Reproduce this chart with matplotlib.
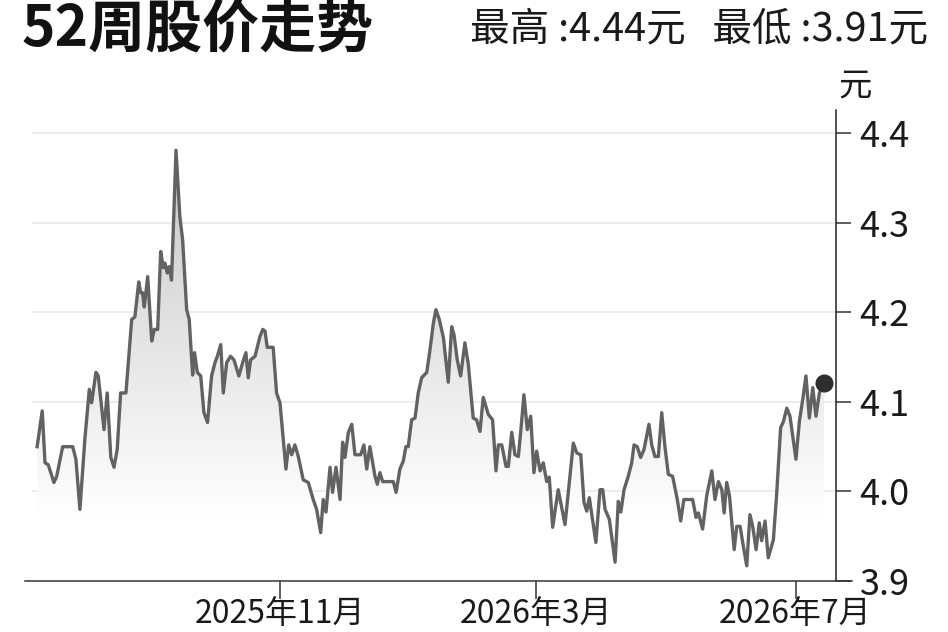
import numpy as np
import matplotlib
matplotlib.use("Agg")
import matplotlib.pyplot as plt

plt.rcParams['font.family'] = ['Noto Sans CJK SC', 'DejaVu Sans']

# 日期: 距 2025-07-10 的天数; 价格: 元
start = np.datetime64('2025-07-10')
day = [0.0, 2.4, 3.7, 5.2, 7.9, 9.2, 12.0, 16.7, 18.2, 20.1,
       22.4, 24.5, 25.6, 27.6, 28.7, 31.4, 32.9, 34.6, 36.1, 37.6,
       39.2, 41.7, 44.4, 45.9, 47.7, 48.6, 49.5, 50.3, 51.9, 53.8,
       55.0, 56.6, 58.0, 59.2, 60.0, 61.1, 62.0, 63.1, 65.2, 67.0,
       68.3, 70.2, 71.4, 73.0, 73.9, 75.2, 76.8, 78.3, 80.0, 81.9,
       83.5, 84.6, 86.2, 87.4, 89.0, 90.8, 92.4, 94.7, 96.5, 98.0,
       99.1, 100.2, 102.3, 104.6, 105.9, 107.0, 108.0, 110.8, 112.4, 114.0,
       116.8, 118.1, 119.5, 121.0, 122.6, 124.9, 127.3, 129.6, 131.2, 133.1,
       134.3, 135.6, 137.5, 138.7, 140.3, 142.2, 143.4, 144.5, 146.1, 147.7,
       149.2, 151.9, 153.4, 154.7, 156.2, 158.6, 159.7, 160.9, 162.2, 167.2,
       168.5, 170.3, 171.9, 173.1, 174.2, 175.8, 177.4, 178.9, 180.5, 182.9,
       184.4, 186.0, 187.2, 188.8, 190.7, 193.0, 194.6, 195.7, 197.2, 198.8,
       200.8, 202.4, 204.7, 206.3, 207.9, 209.4, 211.8, 213.8, 215.4, 216.5,
       218.1, 220.1, 221.2, 222.8, 224.3, 225.9, 227.4, 228.5, 230.1, 231.7,
       233.2, 234.5, 236.1, 237.6, 239.2, 240.4, 242.0, 244.6, 247.8, 251.7,
       253.3, 255.2, 256.7, 258.0, 259.2, 262.3, 264.2, 265.5, 266.6, 268.6,
       271.3, 272.8, 274.0, 275.5, 277.5, 279.1, 280.2, 281.7, 283.3, 284.9,
       287.2, 288.5, 290.0, 291.6, 293.2, 294.7, 296.3, 298.3, 300.5, 302.1,
       303.6, 307.7, 309.3, 310.4, 312.4, 314.3, 316.7, 318.2, 319.8, 321.4,
       322.5, 323.7, 325.0, 327.2, 328.4, 330.0, 331.2, 333.1, 334.6, 335.9,
       337.5, 339.0, 340.1, 341.7, 343.2, 345.6, 347.2, 349.0, 350.3, 351.9,
       353.4, 356.2, 357.8, 359.4, 360.9, 362.5, 364.1, 365.6, 367.2, 369.4]
price = [4.050, 4.090, 4.032, 4.030, 4.010, 4.017, 4.050, 4.050, 4.036, 3.980,
         4.058, 4.114, 4.099, 4.133, 4.129, 4.069, 4.110, 4.038, 4.027, 4.047,
         4.110, 4.110, 4.192, 4.195, 4.234, 4.222, 4.222, 4.206, 4.240, 4.168,
         4.181, 4.181, 4.268, 4.250, 4.255, 4.244, 4.251, 4.236, 4.381, 4.307,
         4.281, 4.203, 4.192, 4.130, 4.155, 4.133, 4.129, 4.088, 4.077, 4.129,
         4.144, 4.151, 4.164, 4.110, 4.144, 4.151, 4.147, 4.129, 4.144, 4.155,
         4.127, 4.147, 4.151, 4.173, 4.181, 4.179, 4.161, 4.161, 4.110, 4.099,
         4.025, 4.052, 4.041, 4.052, 4.039, 4.013, 4.010, 3.991, 3.980, 3.954,
         3.991, 3.977, 4.027, 3.999, 4.027, 3.991, 4.055, 4.038, 4.066, 4.075,
         4.041, 4.041, 4.052, 4.025, 4.050, 4.017, 4.008, 4.021, 4.011, 4.011,
         3.999, 4.025, 4.034, 4.050, 4.050, 4.080, 4.082, 4.110, 4.127, 4.133,
         4.158, 4.188, 4.203, 4.192, 4.172, 4.122, 4.184, 4.175, 4.147, 4.129,
         4.166, 4.142, 4.082, 4.080, 4.067, 4.105, 4.086, 4.080, 4.023, 4.052,
         4.052, 4.028, 4.028, 4.066, 4.041, 4.039, 4.077, 4.108, 4.069, 4.084,
         4.021, 4.045, 4.023, 4.032, 4.011, 4.016, 3.960, 4.002, 3.963, 4.054,
         4.043, 4.041, 3.988, 3.978, 3.993, 3.943, 4.002, 4.002, 3.980, 3.969,
         3.921, 3.989, 3.977, 4.002, 4.017, 4.032, 4.052, 4.050, 4.038, 4.047,
         4.075, 4.052, 4.039, 4.039, 4.088, 4.050, 4.019, 4.017, 3.991, 3.967,
         3.991, 3.991, 3.971, 3.976, 3.958, 3.995, 4.023, 3.991, 4.011, 4.002,
         3.976, 4.010, 3.995, 3.935, 3.961, 3.961, 3.943, 3.917, 3.974, 3.961,
         3.935, 3.965, 3.945, 3.967, 3.926, 3.946, 3.999, 4.071, 4.078, 4.093,
         4.084, 4.036, 4.078, 4.103, 4.129, 4.082, 4.116, 4.084, 4.110, 4.121]

tick_dates = ['2025-11-01', '2026-03-01', '2026-07-01']
tick_labels = ['2025年11月', '2026年3月', '2026年7月']
y_ticks = [3.9, 4.0, 4.1, 4.2, 4.3, 4.4]
title = '52周股价走势'
summary = '最高 :4.44元   最低 :3.91元'
unit = '元'

x = np.array(day)
y = np.array(price)
x_lo, x_hi = -2.4, 375.0
y_lo, y_hi = 3.9, 4.426

fig = plt.figure(figsize=(9.48, 6.32), dpi=100)
ax = fig.add_axes([32 / 948, 51 / 632, 804 / 948, 471 / 632])

# 网格
for v in y_ticks[1:]:
    ax.axhline(v, color='#ececec', lw=1.3, zorder=0)

# 渐变填充
poly = ax.fill_between(x, y, y_lo, color='none', lw=0)
grad_y = np.linspace(y_lo, y_hi, 200)
shade = 1 - 0.22 * np.clip((grad_y - 3.97) / 0.42, 0, 1)
img = np.dstack([shade, shade, shade]).reshape(-1, 1, 3)
im = ax.imshow(img, extent=[x_lo, x_hi, y_lo, y_hi], origin='lower',
               aspect='auto', zorder=1, interpolation='bilinear')
im.set_clip_path(poly.get_paths()[0], transform=ax.transData)

ax.plot(x, y, color='#626262', lw=2.4, zorder=3)
ax.plot(x[-1], y[-1], 'o', color='#2e2e2e', markersize=12, zorder=4)

ax.set_xlim(x_lo, x_hi)
ax.set_ylim(y_lo, y_hi)

for s in ['top', 'left', 'bottom']:
    ax.spines[s].set_visible(False)
ax.spines['right'].set_color('#222222')
ax.spines['right'].set_linewidth(1.1)
ax.plot([-0.009, 1.02], [0, 0], transform=ax.transAxes, color='#333333',
        lw=1.1, clip_on=False, zorder=5)

ax.yaxis.tick_right()
ax.set_yticks(y_ticks)
ax.set_yticklabels([f'{v:.1f}' for v in y_ticks], fontweight='light')
ax.tick_params(axis='y', direction='out', length=11, width=1.1,
               color='#333333', labelsize=26, pad=6, labelcolor='#1a1a1a')

tick_pos = [(np.datetime64(d) - start).astype(int) for d in tick_dates]
ax.set_xticks(tick_pos)
ax.set_xticklabels(tick_labels, fontweight='light')
ax.tick_params(axis='x', direction='out', length=13, width=1.1,
               color='#333333', labelsize=23, pad=-1, labelcolor='#1a1a1a')

fig.text(22 / 948, 1 - 47 / 632, title, fontsize=41, fontweight='heavy',
         ha='left', va='baseline', color='#111111')
fig.text(928 / 948, 1 - 40 / 632, summary, fontsize=28.5, ha='right',
         va='baseline', color='#1a1a1a', fontweight='light')
fig.text(855 / 948, 1 - 96 / 632, unit, fontsize=24, ha='center',
         va='baseline', color='#1a1a1a', fontweight='light')

fig.savefig('out.png', dpi=100)
